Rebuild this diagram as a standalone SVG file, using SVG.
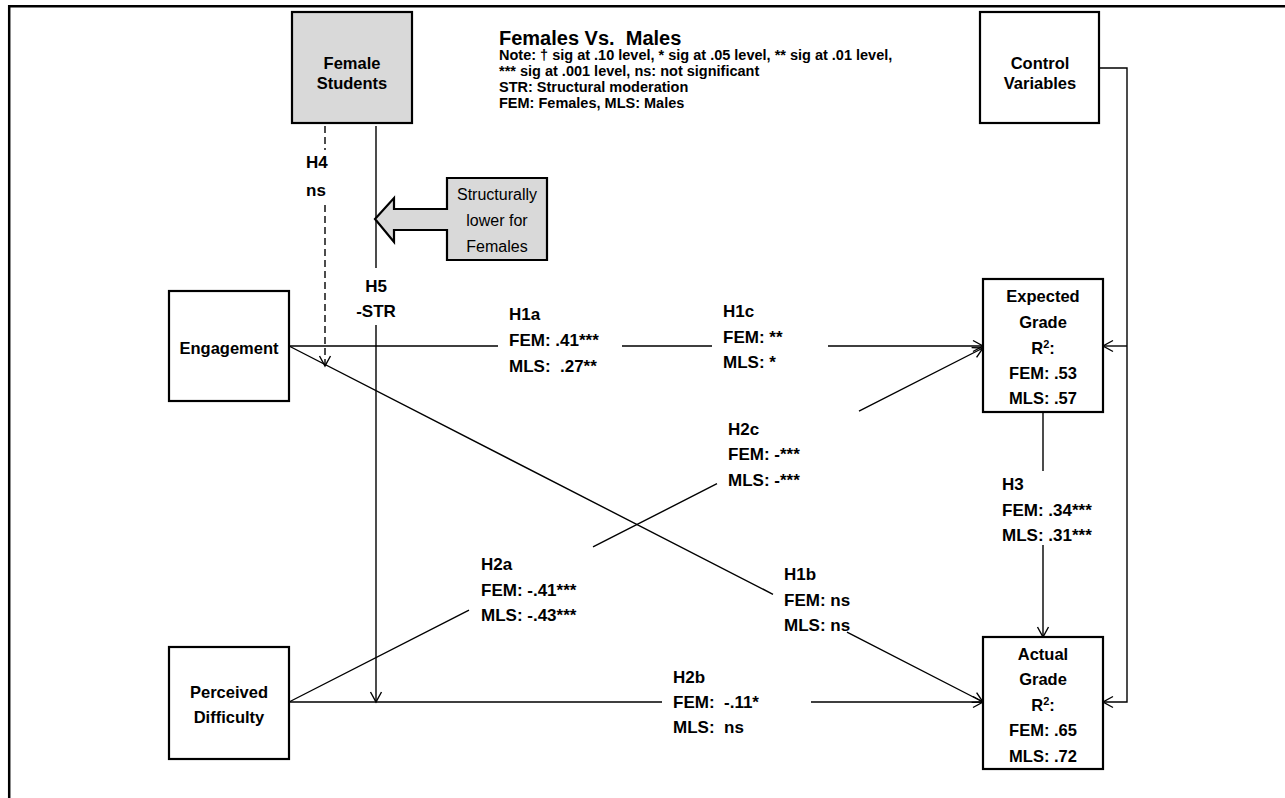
<svg xmlns="http://www.w3.org/2000/svg" width="1285" height="798" viewBox="0 0 1285 798">
<defs>
<style>
text{white-space:pre}
.box{fill:#fff;stroke:#000;stroke-width:2.2}
.grey{fill:#d9d9d9}
.t{font-family:"Liberation Sans",Arial,sans-serif;font-weight:bold;font-size:17px;fill:#000}
.n{font-size:16.5px}
.c{text-anchor:middle}
.note{font-family:"Liberation Sans",Arial,sans-serif;font-weight:bold;font-size:14.5px;fill:#000}
.title{font-family:"Liberation Sans",Arial,sans-serif;font-weight:bold;font-size:20px;fill:#000}
.call{font-family:"Liberation Sans",Arial,sans-serif;font-size:16px;fill:#000;text-anchor:middle}
.ln{fill:none;stroke:#000;stroke-width:1.4}
.dash{stroke-dasharray:7 4}
</style>
<marker id="arr" viewBox="-12 -8 14 16" markerWidth="14" markerHeight="16" refX="0" refY="0" orient="auto" markerUnits="userSpaceOnUse">
<path d="M-10,-5.5 L0,0 L-10,5.5" fill="none" stroke="#000" stroke-width="1.4" stroke-dasharray="none"/>
</marker>
</defs>
<rect width="1285" height="798" fill="#fff"/>
<g id="frame">
<path d="M9.2,798 L9.2,6.2 L1285,6.2" fill="none" stroke="#000" stroke-width="2.5"/>
</g>
<g id="legend">
<text class="title" x="499" y="45" xml:space="preserve">Females Vs.  Males</text>
<text class="note" x="499" y="60">Note: † sig at .10 level, * sig at .05 level, ** sig at .01 level,</text>
<text class="note" x="499" y="76">*** sig at .001 level, ns: not significant</text>
<text class="note" x="499" y="92">STR: Structural moderation</text>
<text class="note" x="499" y="107.5">FEM: Females, MLS: Males</text>
</g>
<g id="connectors">
<path class="ln" d="M289,346 L498,346 M622,346 L712,346 M828,346 L983,346" marker-end="url(#arr)"/>
<path class="ln" d="M289,346 L773,594.3 M847,632.2 L983,702" marker-end="url(#arr)"/>
<path class="ln" d="M289,702 L469,610.2 M593,546.9 L717,483.7 M859,411.2 L983,348" marker-end="url(#arr)"/>
<path class="ln" d="M289,702 L662,702 M811,702 L983,702" marker-end="url(#arr)"/>
<path class="ln" d="M1043,412 L1043,471 M1043,545 L1043,637" marker-end="url(#arr)"/>
<path class="ln" d="M1099,68 L1127,68 L1127,702 L1103,702" marker-end="url(#arr)"/>
<path class="ln" d="M1127,346 L1103,346" marker-end="url(#arr)"/>
<path class="ln dash" d="M325,126 L325,150 M325,205 L325,366" marker-end="url(#arr)"/>
<path class="ln" d="M376,126 L376,268 M376,325 L376,702" marker-end="url(#arr)"/>
</g>
<g id="labels">
<g id="lbl-h1a"><text class="t" x="509" y="320">H1a</text><text class="t" x="509" y="346">FEM: .41***</text><text class="t" x="509" y="372" xml:space="preserve">MLS:  .27**</text></g>
<g id="lbl-h1c"><text class="t" x="723" y="317">H1c</text><text class="t" x="723" y="343">FEM: **</text><text class="t" x="723" y="368">MLS: *</text></g>
<g id="lbl-h2c"><text class="t" x="728" y="435">H2c</text><text class="t" x="728" y="460">FEM: -***</text><text class="t" x="728" y="486">MLS: -***</text></g>
<g id="lbl-h2a"><text class="t" x="481" y="570">H2a</text><text class="t" x="481" y="596">FEM: -.41***</text><text class="t" x="481" y="621">MLS: -.43***</text></g>
<g id="lbl-h1b"><text class="t" x="784" y="580">H1b</text><text class="t" x="784" y="606">FEM: ns</text><text class="t" x="784" y="631">MLS: ns</text></g>
<g id="lbl-h2b"><text class="t" x="673" y="683">H2b</text><text class="t" x="673" y="708" xml:space="preserve">FEM:  -.11*</text><text class="t" x="673" y="733" xml:space="preserve">MLS:  ns</text></g>
<g id="lbl-h3"><text class="t" x="1002" y="490">H3</text><text class="t" x="1002" y="516">FEM: .34***</text><text class="t" x="1002" y="541">MLS: .31***</text></g>
<g id="lbl-h4"><text class="t" x="306" y="168">H4</text><text class="t" x="306" y="196">ns</text></g>
<g id="lbl-h5"><text class="t c" x="376" y="292">H5</text><text class="t c" x="376" y="317">-STR</text></g>
</g>
<g id="node-female">
<rect class="box grey" x="292" y="12" width="120" height="111"/>
<text class="t n c" x="352" y="69">Female</text>
<text class="t n c" x="352" y="89">Students</text>
</g>
<g id="node-control">
<rect class="box" x="980" y="12" width="119" height="111"/>
<text class="t n c" x="1040" y="69">Control</text>
<text class="t n c" x="1040" y="89">Variables</text>
</g>
<g id="node-callout">
<polygon class="box grey" points="447,178 547,178 547,260 447,260 447,230 394,230 394,242 375,219 394,198 394,209 447,209"/>
<text class="call" x="497" y="200">Structurally</text>
<text class="call" x="497" y="226">lower for</text>
<text class="call" x="497" y="252">Females</text>
</g>
<g id="node-engagement">
<rect class="box" x="169" y="291" width="120" height="110"/>
<text class="t n c" x="229" y="354">Engagement</text>
</g>
<g id="node-difficulty">
<rect class="box" x="169" y="647" width="120" height="112"/>
<text class="t n c" x="229" y="698">Perceived</text>
<text class="t n c" x="229" y="723">Difficulty</text>
</g>
<g id="node-expected">
<rect class="box" x="983" y="279" width="120" height="133"/>
<text class="t n c" x="1043" y="302">Expected</text>
<text class="t n c" x="1043" y="328">Grade</text>
<text class="t n c" x="1043" y="354">R<tspan font-size="11" baseline-shift="super">2</tspan>:</text>
<text class="t n c" x="1043" y="379">FEM: .53</text>
<text class="t n c" x="1043" y="404">MLS: .57</text>
</g>
<g id="node-actual">
<rect class="box" x="983" y="637" width="120" height="132"/>
<text class="t n c" x="1043" y="660">Actual</text>
<text class="t n c" x="1043" y="685">Grade</text>
<text class="t n c" x="1043" y="711">R<tspan font-size="11" baseline-shift="super">2</tspan>:</text>
<text class="t n c" x="1043" y="736">FEM: .65</text>
<text class="t n c" x="1043" y="762">MLS: .72</text>
</g>
</svg>
